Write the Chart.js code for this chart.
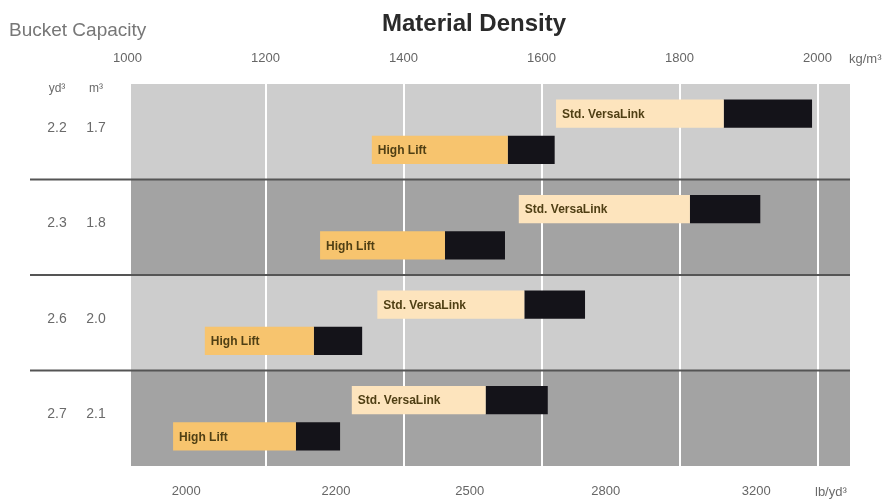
<!DOCTYPE html>
<html>
<head>
<meta charset="utf-8">
<script src="https://cdn.jsdelivr.net/npm/chart.js"></script>
<style>
  html, body { margin: 0; padding: 0; background: #ffffff; }
  #wrap { width: 896px; height: 503px; }
</style>
</head>
<body>
<div id="wrap"><canvas id="c" width="896" height="503"></canvas></div>
<script>
// ---- data ----
const ydCapacity = ['2.2', '2.3', '2.6', '2.7'];     // bucket capacity, yd³
const m3Capacity = ['1.7', '1.8', '2.0', '2.1'];     // bucket capacity, m³
const stdStart = [1621, 1567, 1362, 1325];           // Std. VersaLink, kg/m³
const stdMid   = [1864, 1815, 1575, 1519];
const stdEnd   = [1992, 1917, 1663, 1609];
const hlStart  = [1354, 1279, 1112, 1066];           // High Lift, kg/m³
const hlMid    = [1551, 1460, 1270, 1244];
const hlEnd    = [1619, 1547, 1340, 1308];
const kgTicks  = [1000, 1200, 1400, 1600, 1800, 2000];
const lbTickLabels = ['2000', '2200', '2500', '2800', '3200'];
const lbTickAtKg   = [1085, 1302, 1496, 1693, 1911];

const categories = ydCapacity.map((v, i) => v + ' ' + m3Capacity[i]);
const pair = (a, b) => a.map((v, i) => [v, b[i]]);

const SANS = "'Liberation Sans', Arial, sans-serif";
const X_MIN = 1005, X_MAX = 2047;

const deco = {
  id: 'deco',
  beforeDraw(chart) {
    const { ctx, chartArea: a, scales: { y } } = chart;
    const step = a.height / categories.length;
    ctx.save();
    categories.forEach((c, i) => {
      const cy = y.getPixelForTick(i);
      ctx.fillStyle = i % 2 === 0 ? '#cdcdcd' : '#a3a3a3';
      ctx.fillRect(a.left, cy - step / 2, a.width, step);
    });
    ctx.restore();
  },
  beforeDatasetsDraw(chart) {
    const { ctx, chartArea: a, scales: { y } } = chart;
    ctx.save();
    ctx.strokeStyle = '#555555';
    ctx.lineWidth = 2;
    for (let i = 0; i < categories.length - 1; i++) {
      const yy = (y.getPixelForTick(i) + y.getPixelForTick(i + 1)) / 2;
      ctx.beginPath();
      ctx.moveTo(30, yy);
      ctx.lineTo(a.right, yy);
      ctx.stroke();
    }
    ctx.restore();
  },
  afterDraw(chart) {
    const { ctx, chartArea: a, scales: { y } } = chart;
    ctx.save();
    // titles
    ctx.fillStyle = '#2a2a2a';
    ctx.font = "bold 24px " + SANS;
    ctx.textAlign = 'center';
    ctx.textBaseline = 'alphabetic';
    ctx.fillText('Material Density', 474, 31);
    ctx.fillStyle = '#777777';
    ctx.font = "19px " + SANS;
    ctx.textAlign = 'left';
    ctx.fillText('Bucket Capacity', 9, 36);
    // left column headers and values
    ctx.fillStyle = '#6a6a6a';
    ctx.font = "12px " + SANS;
    ctx.textAlign = 'center';
    ctx.textBaseline = 'middle';
    ctx.fillText('yd³', 57, 89);
    ctx.fillText('m³', 96, 89);
    ctx.font = "14px " + SANS;
    categories.forEach((c, i) => {
      const cy = y.getPixelForTick(i) - 4;
      ctx.fillText(ydCapacity[i], 57, cy);
      ctx.fillText(m3Capacity[i], 96, cy);
    });
    // units
    ctx.textAlign = 'left';
    ctx.font = "13px " + SANS;
    ctx.fillText('kg/m³', 849, 59);
    ctx.fillText('lb/yd³', 815, 492);
    // bar labels
    ctx.fillStyle = '#4f3f14';
    ctx.font = "bold 12px " + SANS;
    [[0, 'Std. VersaLink'], [2, 'High Lift']].forEach(([di, txt]) => {
      chart.getDatasetMeta(di).data.forEach(el => {
        const p = el.getProps(['x', 'y', 'base'], true);
        ctx.fillText(txt, Math.min(p.x, p.base) + 6, p.y + 1);
      });
    });
    ctx.restore();
  }
};

new Chart(document.getElementById('c'), {
  type: 'bar',
  data: {
    labels: categories,
    datasets: [
      { label: 'Std. VersaLink', stack: 'std', data: pair(stdStart, stdMid), backgroundColor: '#fde4bd', xAxisID: 'x' },
      { label: 'Std. VersaLink (max)', stack: 'std', data: pair(stdMid, stdEnd), backgroundColor: '#141319', xAxisID: 'x' },
      { label: 'High Lift', stack: 'hl', data: pair(hlStart, hlMid), backgroundColor: '#f7c46e', xAxisID: 'x' },
      { label: 'High Lift (max)', stack: 'hl', data: pair(hlMid, hlEnd), backgroundColor: '#141319', xAxisID: 'x' }
    ]
  },
  options: {
    indexAxis: 'y',
    responsive: false,
    animation: false,
    events: [],
    categoryPercentage: 0.76,
    barPercentage: 0.78,
    layout: { padding: { left: 0, right: 46, top: 0, bottom: 0 } },
    plugins: { legend: { display: false }, tooltip: { enabled: false }, title: { display: false } },
    scales: {
      y: {
        stacked: true,
        ticks: { display: false },
        grid: { display: false },
        border: { display: false },
        afterFit: s => { s.width = 131; }
      },
      x: {
        type: 'linear',
        position: 'top',
        stacked: false,
        min: X_MIN, max: X_MAX,
        afterBuildTicks: s => { s.ticks = kgTicks.map(v => ({ value: v })); },
        ticks: {
          color: '#666666', font: { family: SANS, size: 13 }, padding: 18, autoSkip: false, maxRotation: 0,
          callback: v => String(v)
        },
        grid: {
          color: c => (c.tick && c.tick.value < X_MIN) ? 'rgba(0,0,0,0)' : '#ffffff',
          lineWidth: 2, drawTicks: false
        },
        border: { display: false },
        afterFit: s => { s.height = 84; }
      },
      xb: {
        type: 'linear',
        position: 'bottom',
        min: X_MIN, max: X_MAX,
        afterBuildTicks: s => { s.ticks = lbTickAtKg.map(v => ({ value: v })); },
        ticks: {
          color: '#666666', font: { family: SANS, size: 13 }, padding: 18, autoSkip: false, maxRotation: 0,
          callback: (v, i) => lbTickLabels[i]
        },
        grid: { display: false, drawTicks: false },
        border: { display: false },
        afterFit: s => { s.height = 37; }
      }
    }
  },
  plugins: [deco]
});
</script>
</body>
</html>
